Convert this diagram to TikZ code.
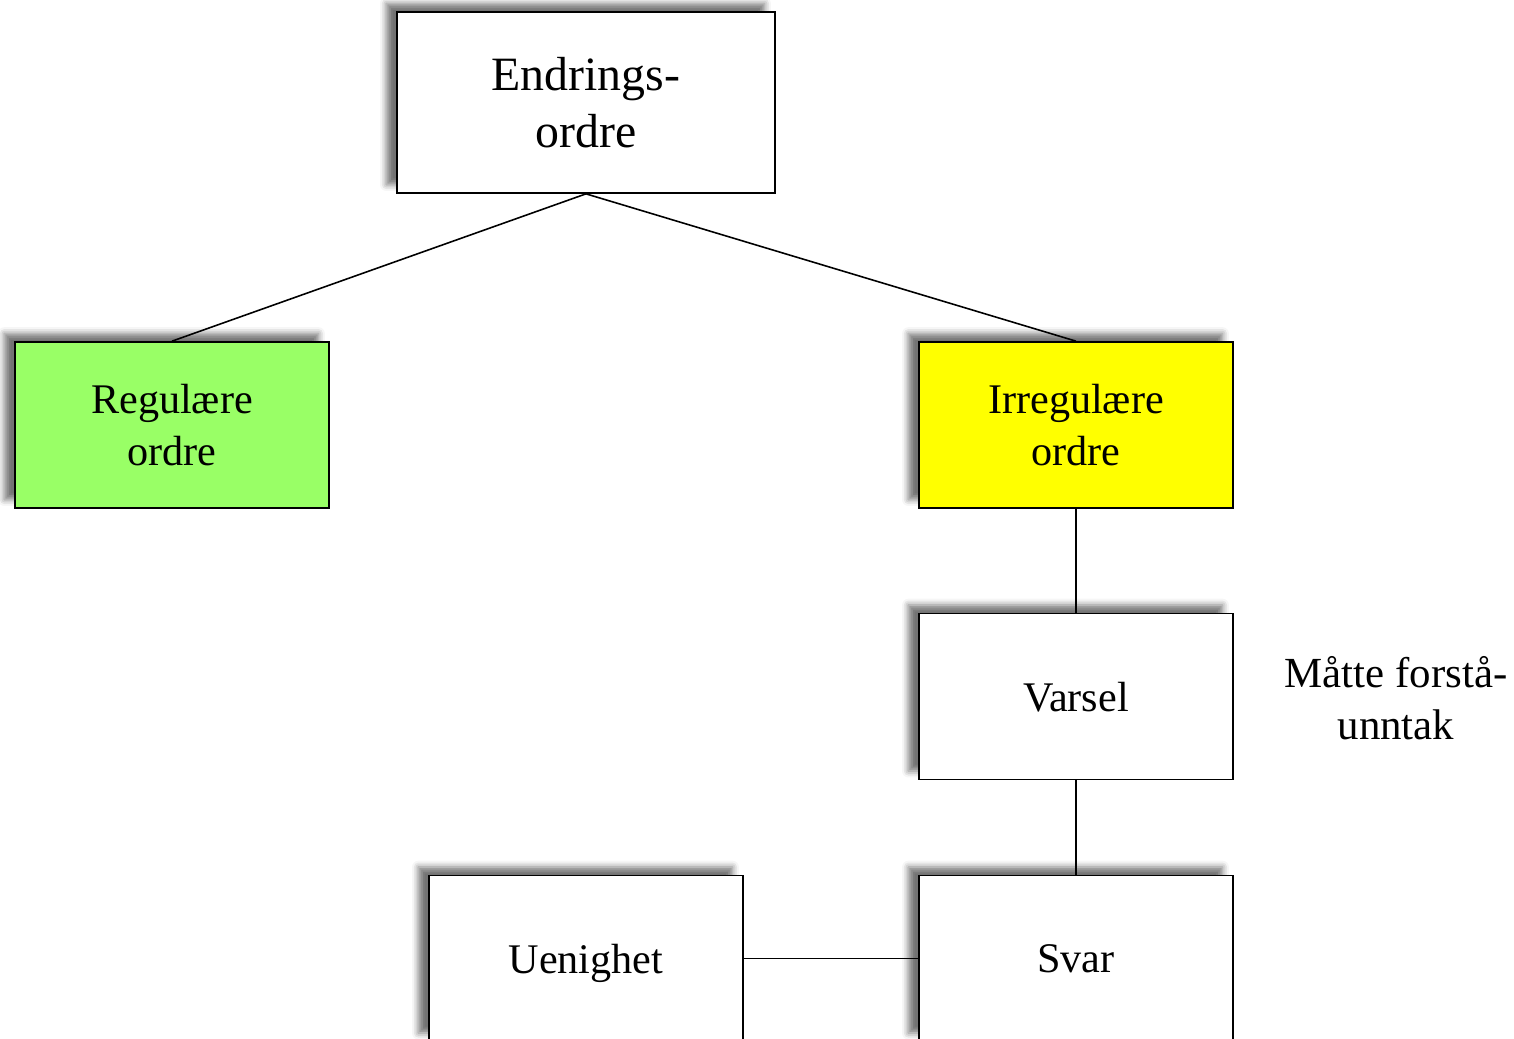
\documentclass[tikz,border=0pt]{standalone}
\usepackage{fontspec}
\setmainfont{Liberation Serif}
\usepackage{tikz}
\usetikzlibrary{shadows.blur}

\definecolor{regular}{RGB}{153,255,102}
\definecolor{irregular}{RGB}{255,255,0}

\begin{document}
\begin{tikzpicture}[
            x = 0.01cm, y = -0.01cm, % one unit per pixel, downwards
            line width = 0.45pt, % line style
            box/.style = {
                draw = black,
                fill = white,
                minimum width = 3.14cm,
                minimum height = 1.66cm,
                align = center,
                text depth = 0pt,
                font = \fontsize{12}{14.8}\selectfont,
                blur shadow = {shadow xshift = -3pt, shadow yshift = 2.4pt,
                               shadow blur radius = 1.8pt, shadow opacity = 55}
            }
        ]

        \useasboundingbox (0,0) rectangle (1514,1039);

        \node[box, minimum width = 3.78cm, minimum height = 1.81cm,
              font = \fontsize{13.6}{16}\selectfont] (endring) at (586,102.5) {Endrings-\\ordre};
        \node[box, fill = regular] (regulaer) at (172,425) {Regulære\\ordre};
        \node[box, fill = irregular] (irregulaer) at (1076,425) {Irregulære\\ordre};
        \node[box] (varsel) at (1076,696.5) {Varsel};
        \node[box] (svar) at (1076,958.5) {Svar};
        \node[box] (uenighet) at (586,958.5) {Uenighet};
        \node[align = center, font = \fontsize{12.2}{14.6}\selectfont] (unntak) at (1396,698) {Måtte forstå-\\unntak};

        \draw (endring.south) -- (regulaer.north);
        \draw (endring.south) -- (irregulaer.north);
        \draw (irregulaer) -- (varsel);
        \draw (varsel) -- (svar);
        \draw (uenighet) -- (svar);

  \end{tikzpicture}
\end{document}
